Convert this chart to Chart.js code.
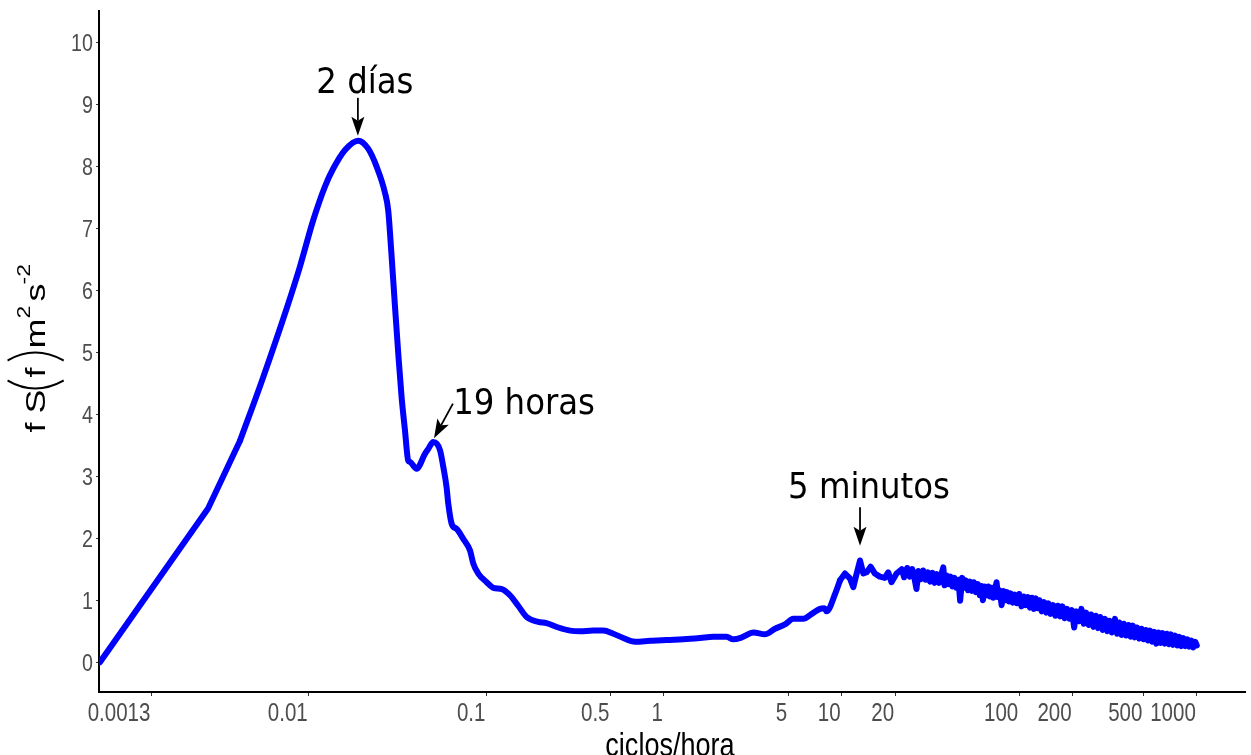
<!DOCTYPE html>
<html>
<head>
<meta charset="utf-8">
<script src="https://cdn.jsdelivr.net/npm/chart.js@4.4.1/dist/chart.umd.min.js"></script>
<style>
  html, body { margin: 0; padding: 0; background: #fff; overflow: hidden; }
  #wrap { width: 1251px; height: 755px; position: relative; }
</style>
</head>
<body>
<div id="wrap"><canvas id="spectrum"></canvas></div>
<script>
// Smooth low-frequency part of the spectrum (ciclos/hora, f·S(f))
const lowFreq = [0.000667, 0.00271, 0.0041, 0.00545, 0.00754, 0.00892, 0.0106, 0.01233, 0.01374, 0.016,
  0.019, 0.0216, 0.0241, 0.0268, 0.028, 0.0292, 0.0305, 0.0319, 0.0333, 0.0348,
  0.0363, 0.0371, 0.0405, 0.0451, 0.0471, 0.0502, 0.0548, 0.0572, 0.0597, 0.061,
  0.0638, 0.068, 0.0741, 0.0809, 0.0844, 0.09, 0.1004, 0.1094, 0.122, 0.1358,
  0.151, 0.1686, 0.196, 0.218, 0.254, 0.296, 0.337, 0.40, 0.455, 0.519,
  0.59, 0.687, 0.834, 1.035, 1.285, 1.595, 1.896, 2.254, 2.455, 2.74,
  3.19, 3.7, 4.22, 4.8, 5.35, 6.09, 6.79, 7.56, 8.0, 8.24,
  9.19, 9.8];
const lowVal = [0, 2.48, 3.57, 4.54, 5.72, 6.38, 7.13, 7.67, 7.96, 8.26,
  8.41, 8.28, 7.99, 7.58, 7.29, 6.59, 5.78, 4.98, 4.28, 3.74,
  3.25, 3.23, 3.12, 3.36, 3.44, 3.55, 3.42, 3.15, 2.82, 2.56,
  2.23, 2.15, 1.99, 1.80, 1.59, 1.43, 1.29, 1.20, 1.18, 1.08,
  0.91, 0.73, 0.65, 0.63, 0.56, 0.51, 0.50, 0.51, 0.51, 0.46,
  0.39, 0.33, 0.345, 0.36, 0.37, 0.39, 0.41, 0.41, 0.37, 0.40,
  0.48, 0.45, 0.54, 0.61, 0.70, 0.70, 0.78, 0.86, 0.87, 0.82,
  1.10, 1.32];

// Noisy high-frequency part
const highFreq = [10.45, 11.15, 11.64, 12.16, 12.7, 13.25, 13.84, 14.57, 15.4, 16.4,
  17.5, 18.3, 19.1, 20.4, 21.8, 22.5, 23.4, 24.2, 25.0, 25.7,
  26.4, 27.1, 28.0, 28.8, 29.7, 30.6, 31.5, 32.5, 33.4, 34.4,
  35.4, 36.4, 37.4, 38.0, 39.0, 40.0, 41.0, 42.0, 43.2, 44.3,
  45.5, 46.5, 47.8, 49.0, 50.0, 51.5, 52.8, 54.2, 55.5, 57.0,
  58.5, 60.0, 61.3, 62.5, 64.0, 65.5, 67.0, 68.5, 70.0, 71.5,
  73.0, 74.6, 76.0, 77.8, 79.6, 81.5, 83.5, 85.5, 87.5, 89.5,
  92.0, 94.5, 97.0, 100, 103, 106, 109, 112, 115, 118,
  121, 124, 127, 130, 134, 138, 142, 146, 150, 155,
  160, 165, 170, 175, 180, 186, 192, 198, 204, 210,
  217, 224, 231, 238, 246, 254, 262, 270, 278, 286,
  295, 304, 313, 322, 332, 346, 356, 366, 377, 388,
  400, 412, 424, 436, 448, 460, 474, 488, 502, 516,
  530, 545, 560, 576, 592, 608, 625, 642, 660, 678,
  696, 715, 735, 755, 776, 797, 818, 840, 862, 885,
  908, 932, 956, 980, 1000];
const highVal = [1.43, 1.35, 1.21, 1.43, 1.64, 1.43, 1.45, 1.54, 1.43, 1.38,
  1.36, 1.45, 1.29, 1.43, 1.50, 1.37, 1.52, 1.38, 1.50, 1.36,
  1.18, 1.47, 1.34, 1.48, 1.33, 1.45, 1.30, 1.44, 1.28, 1.42,
  1.28, 1.41, 1.53, 1.24, 1.40, 1.26, 1.38, 1.22, 1.36, 1.20,
  1.33, 0.99, 1.36, 1.20, 1.32, 1.16, 1.30, 1.15, 1.29, 1.13,
  1.26, 1.08, 1.23, 1.00, 1.22, 1.08, 1.22, 1.06, 1.20, 1.04,
  1.18, 1.29, 1.05, 1.16, 0.92, 1.15, 1.00, 1.13, 0.98, 1.11,
  0.96, 1.09, 0.95, 1.10, 0.90, 1.06, 0.92, 1.05, 0.88, 1.04,
  0.86, 1.03, 0.87, 1.00, 0.82, 0.97, 0.80, 0.95, 0.78, 0.92,
  0.75, 0.91, 0.74, 0.90, 0.71, 0.86, 0.70, 0.84, 0.56, 0.82,
  0.66, 0.86, 0.62, 0.80, 0.60, 0.77, 0.57, 0.75, 0.55, 0.73,
  0.52, 0.70, 0.50, 0.67, 0.48, 0.70, 0.46, 0.64, 0.44, 0.62,
  0.43, 0.60, 0.41, 0.59, 0.40, 0.56, 0.38, 0.54, 0.37, 0.52,
  0.35, 0.51, 0.33, 0.49, 0.30, 0.48, 0.31, 0.47, 0.30, 0.46,
  0.29, 0.45, 0.28, 0.43, 0.27, 0.41, 0.26, 0.39, 0.26, 0.37,
  0.25, 0.35, 0.24, 0.33, 0.27];

// Axis ticks
const xTickValues = [0.0013, 0.01, 0.1, 0.5, 1, 5, 10, 20, 100, 200, 500, 1000];
const xTickLabels = ['0.0013', '0.01', '0.1', '0.5', '1', '5', '10', '20', '100', '200', '500', '1000'];
const yTickValues = [0, 1, 2, 3, 4, 5, 6, 7, 8, 9, 10];

// Peak annotations: label anchor (centre, baseline) and arrow ends, in data units
const noteText = ['2 días', '19 horas', '5 minutos'];
const noteFreq = [0.0207, 0.163, 14.26];
const noteVal = [9.18, 4.01, 2.64];
const arrowFromFreq = [0.0189, 0.0648, 12.7];
const arrowFromVal = [9.10, 4.17, 2.50];
const arrowToFreq = [0.0189, 0.0507, 12.7];
const arrowToVal = [8.49, 3.61, 1.88];

const smoothPoints = lowFreq.map((f, i) => ({ x: f, y: lowVal[i] }));
const risePoints = smoothPoints.slice(0, 3);          // straight initial rise
const curvedPoints = smoothPoints.slice(2);           // rounded main peaks
const noisyPoints = [smoothPoints[smoothPoints.length - 1]]
  .concat(highFreq.map((f, i) => ({ x: f, y: highVal[i] })));

const sans = '"Liberation Sans", Arial, sans-serif';
const condensed = '"DejaVu Sans Condensed", "DejaVu Sans", sans-serif';
const SQUEEZE = 0.82;

// Liberation Sans squeezed horizontally into a narrow face
function narrowText(ctx, text, x, y, size, align, color) {
  ctx.save();
  ctx.translate(x, y);
  ctx.scale(SQUEEZE, 1);
  ctx.font = size + 'px ' + sans;
  ctx.textAlign = align;
  ctx.textBaseline = 'alphabetic';
  ctx.fillStyle = color;
  ctx.fillText(text, 0, 0);
  ctx.restore();
}

function drawArrow(ctx, x0, y0, x1, y1) {
  const a = Math.atan2(y1 - y0, x1 - x0);
  const c = Math.cos(a), s = Math.sin(a);
  const L = 19, W = 6.5, N = 15;
  ctx.lineWidth = 1.8;
  ctx.beginPath();
  ctx.moveTo(x0, y0);
  ctx.lineTo(x1 - N * c, y1 - N * s);
  ctx.stroke();
  ctx.beginPath();
  ctx.moveTo(x1, y1);
  ctx.lineTo(x1 - L * c + W * s, y1 - L * s - W * c);
  ctx.lineTo(x1 - N * c, y1 - N * s);
  ctx.lineTo(x1 - L * c - W * s, y1 - L * s + W * c);
  ctx.closePath();
  ctx.fill();
}

const decorations = {
  id: 'decorations',
  afterDraw(chart) {
    const { ctx, chartArea, scales: { x, y } } = chart;
    ctx.save();
    ctx.fillStyle = '#000';
    ctx.strokeStyle = '#000';

    // tick labels
    x.ticks.forEach((t, i) => {
      narrowText(ctx, xTickLabels[i], x.getPixelForValue(t.value) - 1, 721, 25, 'right', '#4d4d4d');
    });
    y.ticks.forEach(t => {
      narrowText(ctx, String(t.value), 93, y.getPixelForValue(t.value) + 8.6, 24, 'right', '#4d4d4d');
    });

    // peak labels with arrows
    ctx.font = '36px ' + condensed;
    ctx.textAlign = 'center';
    ctx.textBaseline = 'alphabetic';
    noteText.forEach((t, i) => {
      ctx.fillText(t, x.getPixelForValue(noteFreq[i]), y.getPixelForValue(noteVal[i]));
      drawArrow(ctx,
        x.getPixelForValue(arrowFromFreq[i]), y.getPixelForValue(arrowFromVal[i]),
        x.getPixelForValue(arrowToFreq[i]), y.getPixelForValue(arrowToVal[i]));
    });

    // x axis title
    narrowText(ctx, 'ciclos/hora', (chartArea.left + chartArea.right) / 2 - 2, 756, 33, 'center', '#000');

    // y axis title: f S(f) m²s⁻²
    const mid = (chartArea.top + chartArea.bottom) / 2;
    ctx.save();
    ctx.translate(45, mid + 81);
    ctx.rotate(-Math.PI / 2);
    ctx.scale(1, 0.78);
    ctx.textAlign = 'left';
    ctx.font = '36px ' + sans;
    ctx.fillText('f', 0, 0);
    ctx.fillText('S', 19, 0);
    ctx.fillText('f', 55, 0);
    ctx.fillText('m', 84, 0);
    ctx.fillText('s', 131, 0);
    ctx.font = '23px ' + sans;
    ctx.fillText('2', 114, -19);
    ctx.fillText('-2', 148, -19);
    // stretched parentheses
    ctx.lineWidth = 2;
    ctx.beginPath();
    ctx.moveTo(52, 24);
    ctx.quadraticCurveTo(36, -13, 52, -48);
    ctx.stroke();
    ctx.beginPath();
    ctx.moveTo(72, 24);
    ctx.quadraticCurveTo(88, -13, 72, -48);
    ctx.stroke();
    ctx.restore();

    ctx.restore();
  }
};

const lineStyle = {
  borderColor: '#0000ff',
  borderWidth: 6,
  pointRadius: 0,
  fill: false,
  borderJoinStyle: 'round',
  borderCapStyle: 'round'
};

new Chart(document.getElementById('spectrum'), {
  type: 'line',
  data: {
    datasets: [
      Object.assign({ data: risePoints, tension: 0 }, lineStyle),
      Object.assign({ data: curvedPoints, cubicInterpolationMode: 'monotone' }, lineStyle),
      Object.assign({ data: noisyPoints, tension: 0 }, lineStyle)
    ]
  },
  options: {
    responsive: true,
    maintainAspectRatio: false,
    animation: false,
    devicePixelRatio: 1,
    layout: { padding: { top: 11, right: 6, left: 0, bottom: 0 } },
    plugins: { legend: { display: false }, tooltip: { enabled: false } },
    scales: {
      x: {
        type: 'logarithmic',
        min: 0.000659,
        max: 1868,
        afterBuildTicks: s => { s.ticks = xTickValues.map(v => ({ value: v })); },
        afterFit: s => { s.height = 63; },
        ticks: { display: false },
        grid: { drawOnChartArea: false, drawTicks: true, tickLength: 4, color: '#333', lineWidth: 1 },
        border: { display: true, color: '#000', width: 2 }
      },
      y: {
        min: -0.48,
        max: 10.5,
        afterBuildTicks: s => { s.ticks = yTickValues.map(v => ({ value: v })); },
        afterFit: s => { s.width = 99; },
        ticks: { display: false },
        grid: { drawOnChartArea: false, drawTicks: true, tickLength: 3, color: '#333', lineWidth: 1 },
        border: { display: true, color: '#000', width: 2 }
      }
    }
  },
  plugins: [decorations]
});
</script>
</body>
</html>
